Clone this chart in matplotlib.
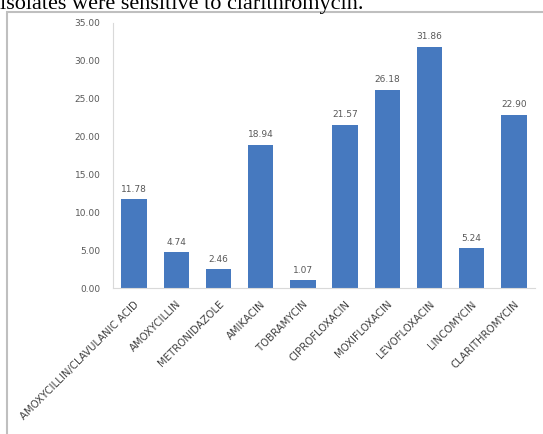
import matplotlib.pyplot as plt
from matplotlib.patches import Rectangle

# Antibiotic resistance percentages
antibiotics = ['AMOXYCILLIN/CLAVULANIC ACID', 'AMOXYCILLIN', 'METRONIDAZOLE',
               'AMIKACIN', 'TOBRAMYCIN', 'CIPROFLOXACIN', 'MOXIFLOXACIN',
               'LEVOFLOXACIN', 'LINCOMYCIN', 'CLARITHROMYCIN']
percent = [11.78, 4.74, 2.46, 18.94, 1.07, 21.57, 26.18, 31.86, 5.24, 22.90]
yticks = [0, 5, 10, 15, 20, 25, 30, 35]

bar_color = '#4679BF'
text_color = '#595959'
line_color = '#D9D9D9'

fig = plt.figure(figsize=(5.43, 4.34), dpi=100)

# caption line above the chart box
fig.text(0.0, 0.99, 'isolates were sensitive to clarithromycin.',
         family='Liberation Serif', fontsize=16, ha='left', va='center')

# chart box border
fig.patches.append(Rectangle((7 / 543, -0.05), 1.1, 1 - 12 / 434 + 0.05,
                             transform=fig.transFigure, fill=False,
                             edgecolor='#BFBFBF', linewidth=1.5))

ax = fig.add_axes([113 / 543, 1 - 288 / 434, 422 / 543, 265 / 434])
x = range(len(antibiotics))
ax.bar(x, percent, width=0.6, color=bar_color)

for xi, v in zip(x, percent):
    ax.text(xi, v + 0.7, f'{v:.2f}', ha='center', va='bottom',
            fontsize=6.5, color=text_color)

ax.set_xlim(-0.5, len(antibiotics) - 0.5)
ax.set_ylim(0, 35)
ax.set_yticks(yticks)
ax.set_yticklabels([f'{t:.2f}' for t in yticks], fontsize=6.5, color=text_color)
ax.set_xticks(list(x))
ax.set_xticklabels(antibiotics, rotation=45, ha='right', va='top',
                   rotation_mode='anchor', fontsize=7.3, color='#404040')
ax.tick_params(axis='y', length=0, pad=9)
ax.tick_params(axis='x', length=0, pad=8)

for side in ['top', 'right']:
    ax.spines[side].set_visible(False)
ax.spines['left'].set_color(line_color)
ax.spines['bottom'].set_color(line_color)

plt.savefig('out.png', dpi=100)
